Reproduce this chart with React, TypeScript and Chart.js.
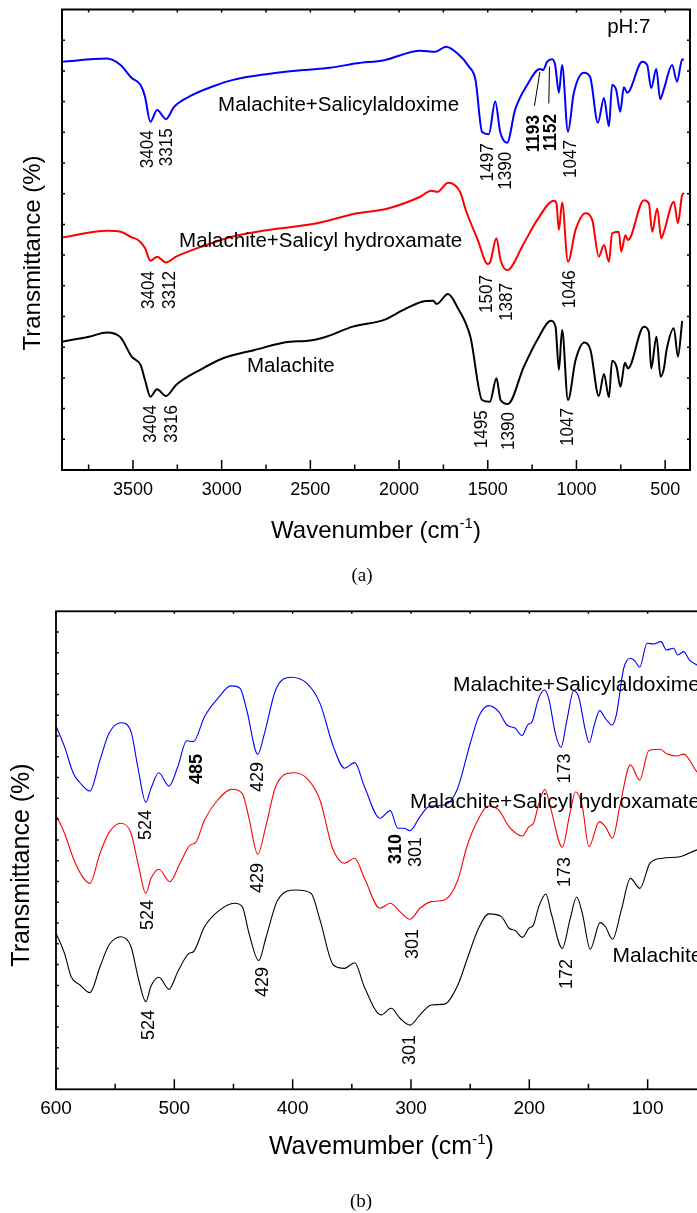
import React, { useEffect, useRef } from "react";
import { Chart, registerables } from "chart.js";

Chart.register(...registerables);

const SANS = '"Liberation Sans", Arial, Helvetica, sans-serif';
const SERIF = '"Liberation Serif", "Times New Roman", serif';

// ---------------- Panel (a): FTIR, wavenumber (cm-1) vs offset transmittance (a.u.)
const aSalicylaldoxime: [number, number][] = [
  [3900, 133.0], [3646, 134.0], [3570, 131.9], [3507, 127.7], [3457, 125.4], [3432, 121.6],
  [3402, 113.4], [3364, 117.3], [3314, 114.3], [3268, 118.3], [3167, 122.1], [3043, 125.1],
  [2941, 127.0], [2738, 129.0], [2538, 130.3], [2389, 131.0], [2236, 132.5], [2084, 133.5],
  [1881, 136.6], [1797, 136.2], [1735, 137.9], [1673, 135.8], [1606, 131.4], [1569, 127.0],
  [1532, 110.1], [1494, 109.4], [1458, 120.0], [1430, 110.2], [1391, 106.6], [1346, 117.3],
  [1278, 125.4], [1206, 130.6], [1188, 130.3], [1165, 133.0], [1137, 133.8], [1120, 131.9],
  [1099, 122.9], [1081, 131.9], [1048, 110.2], [1015, 122.8], [958, 129.4], [923, 128.0],
  [879, 113.1], [845, 121.2], [817, 112.0], [799, 125.4], [776, 123.8], [753, 116.7],
  [733, 124.7], [714, 122.9], [629, 133.0], [601, 131.9], [579, 124.4], [550, 130.6],
  [528, 120.8], [507, 124.1], [461, 131.9], [433, 126.5], [404, 133.8], [395, 133.5],
];
const aSalicylHydroxamate: [number, number][] = [
  [3900, 75.7], [3646, 77.9], [3570, 77.6], [3507, 75.8], [3471, 74.9], [3432, 72.3],
  [3402, 68.2], [3364, 69.5], [3314, 67.6], [3257, 69.5], [3116, 72.7], [2941, 76.0],
  [2738, 78.2], [2487, 80.1], [2236, 83.6], [2062, 85.2], [1881, 89.0], [1819, 91.0],
  [1785, 90.6], [1723, 93.6], [1656, 90.6], [1624, 84.7], [1556, 74.9], [1500, 67.1],
  [1488, 67.5], [1451, 75.5], [1428, 68.4], [1391, 65.1], [1297, 73.8], [1222, 81.4],
  [1127, 87.7], [1113, 86.9], [1099, 78.2], [1081, 87.1], [1048, 67.8], [1005, 78.2],
  [949, 83.6], [911, 81.4], [874, 69.5], [845, 73.3], [817, 67.8], [799, 77.1],
  [761, 77.6], [748, 71.1], [724, 76.5], [710, 74.9], [620, 87.9], [592, 86.9],
  [573, 77.6], [545, 85.2], [522, 75.5], [507, 77.6], [451, 87.4], [428, 80.4],
  [404, 89.6], [393, 90.2],
];
const aMalachite: [number, number][] = [
  [3900, 41.8], [3748, 43.4], [3646, 44.8], [3570, 43.2], [3507, 36.9], [3457, 34.2],
  [3432, 29.3], [3402, 23.9], [3364, 26.3], [3314, 24.1], [3257, 27.7], [3116, 32.8],
  [2992, 36.4], [2814, 39.1], [2614, 41.8], [2525, 42.0], [2411, 43.4], [2261, 46.7],
  [2084, 48.9], [1984, 51.9], [1870, 54.8], [1808, 55.1], [1788, 54.1], [1724, 57.3],
  [1673, 53.2], [1598, 43.4], [1532, 22.8], [1488, 22.2], [1451, 29.9], [1428, 22.8],
  [1387, 21.5], [1297, 33.6], [1222, 42.3], [1143, 48.6], [1118, 46.7], [1099, 32.6],
  [1081, 45.6], [1048, 22.8], [1005, 35.8], [955, 41.5], [921, 39.1], [874, 24.1],
  [845, 31.3], [817, 23.7], [799, 35.6], [774, 33.6], [752, 27.1], [727, 34.9],
  [710, 33.1], [620, 46.7], [592, 45.0], [579, 33.1], [549, 43.4], [526, 30.4],
  [507, 33.1], [492, 39.1], [451, 46.2], [428, 36.9], [404, 48.6],
];
const aXMajor = [3500, 3000, 2500, 2000, 1500, 1000, 500];
const aXMinor = [3750, 3250, 2750, 2250, 1750, 1250, 750];
const aYTicks = [10, 20, 30, 40, 50, 60, 70, 80, 90, 100, 110, 120, 130, 140];

type Note = { text: string; x: number; y: number; rotated: boolean; bold?: boolean };

const aNotes: Note[] = [
  { text: "3404", x: 3418, y: 110.7, rotated: true },
  { text: "3315", x: 3308, y: 111.3, rotated: true },
  { text: "1497", x: 1498, y: 106.4, rotated: true },
  { text: "1390", x: 1396, y: 103.7, rotated: true },
  { text: "1193", x: 1241, y: 115.6, rotated: true, bold: true },
  { text: "1152", x: 1143, y: 116.0, rotated: true, bold: true },
  { text: "1047", x: 1030, y: 107.5, rotated: true },
  { text: "3404", x: 3409, y: 64.8, rotated: true },
  { text: "3312", x: 3294, y: 64.8, rotated: true },
  { text: "1507", x: 1503, y: 63.5, rotated: true },
  { text: "1387", x: 1391, y: 60.9, rotated: true },
  { text: "1046", x: 1038, y: 65.1, rotated: true },
  { text: "3404", x: 3398, y: 21.2, rotated: true },
  { text: "3316", x: 3283, y: 21.2, rotated: true },
  { text: "1495", x: 1532, y: 19.5, rotated: true },
  { text: "1390", x: 1379, y: 18.9, rotated: true },
  { text: "1047", x: 1047, y: 20.2, rotated: true },
  { text: "Malachite+Salicylaldoxime", x: 3020, y: 117.1, rotated: false },
  { text: "Malachite+Salicyl hydroxamate", x: 3240, y: 72.6, rotated: false },
  { text: "Malachite", x: 2857, y: 31.9, rotated: false },
  { text: "pH:7", x: 827, y: 142.2, rotated: false },
];
const aLeaders: [number, number, number, number][] = [
  [1237, 118.6, 1206, 129.7],
  [1156, 119.4, 1152, 131.4],
];

// ---------------- Panel (b): far-IR, wavenumber (cm-1) vs offset transmittance (a.u.)
const bSalicylaldoxime: [number, number][] = [
  [600, 174.8], [592.8, 164.9], [585.4, 152.1], [579.7, 147.5], [571.4, 143.5], [562.8, 158.5],
  [555.2, 171.3], [545.1, 176.4], [536.6, 172.1], [530.9, 155.2], [524.1, 138.1], [519.7, 144.8],
  [513.2, 152.3], [504.5, 145.9], [497.1, 155.2], [489.5, 167.7], [483.9, 167.3], [474.5, 179.3],
  [463.3, 188.1], [452.1, 194.1], [444.5, 193.0], [438.8, 182.5], [429.5, 161.3], [423.8, 171.3],
  [414.4, 192.1], [401.2, 198.3], [388.1, 195.4], [376.9, 185.7], [365.6, 164.9], [356.2, 154.5],
  [347.6, 157.2], [339.3, 145.6], [326.2, 130.4], [317.5, 134.1], [311.1, 125.6], [305.9, 125.6],
  [300.9, 124.4], [292.4, 131.2], [284.8, 136.0], [271.7, 136.8], [261.1, 144.0], [249.9, 166.5],
  [242.8, 179.3], [234.3, 184.6], [225.9, 181.7], [218.9, 175.3], [211.8, 173.7], [206.2, 170.2],
  [201.4, 175.3], [197.7, 176.9], [192.1, 188.1], [187.3, 192.1], [183.6, 188.1], [178.0, 171.3],
  [173.2, 164.6], [168.2, 177.7], [162.5, 191.8], [158.3, 188.9], [152.7, 172.9], [149.3, 166.8],
  [145.1, 175.3], [140.5, 182.2], [135.8, 178.5], [130.1, 175.3], [126.5, 180.1], [120.2, 202.6],
  [114.6, 207.4], [110.4, 205.8], [106.7, 203.1], [100.5, 214.6], [94.9, 214.3], [88.7, 215.4],
  [84.2, 211.4], [78.0, 212.2], [74.6, 209.0], [69.5, 210.6], [64.8, 206.6], [58.3, 204.2],
  [50, 202.0],
];
const bSalicylHydroxamate: [number, number][] = [
  [600, 132.0], [592.8, 123.2], [585.4, 111.2], [577.9, 102.6], [571.4, 99.1], [562.8, 113.6],
  [555.2, 123.5], [545.1, 128.0], [536.6, 123.2], [530.1, 107.1], [524.1, 94.3], [519.7, 101.5],
  [513.0, 105.9], [503.8, 99.9], [495.2, 108.8], [486.5, 117.6], [482.0, 118.7], [474.5, 129.6],
  [463.3, 139.2], [451.3, 144.4], [442.6, 142.4], [436.9, 130.4], [429.5, 113.1], [422.7, 126.4],
  [414.4, 145.6], [399.4, 152.3], [388.1, 149.7], [376.9, 139.2], [366.3, 116.0], [356.2, 108.8],
  [347.6, 111.2], [339.3, 101.5], [326.2, 87.1], [317.5, 89.5], [309.3, 85.5], [300.9, 81.8],
  [292.4, 87.1], [282.9, 90.3], [271.7, 91.1], [260.4, 100.7], [252.8, 116.7], [243.5, 129.6],
  [234.7, 136.3], [225.9, 134.4], [217.2, 126.4], [205.9, 121.9], [200.3, 126.4], [196.5, 128.0],
  [192.0, 137.3], [186.7, 144.4], [182.3, 136.0], [172.1, 116.5], [165.7, 132.8], [160.8, 143.2],
  [155.2, 136.0], [149.6, 116.7], [140.9, 128.8], [135.7, 126.4], [129.7, 120.8], [123.3, 136.8],
  [114.6, 156.1], [106.7, 148.8], [99.1, 162.9], [89.3, 163.6], [83.6, 161.3], [75.2, 160.4],
  [69.5, 161.3], [58.3, 152.8], [50, 150.0],
];
const bMalachite: [number, number][] = [
  [600, 75.1], [592.8, 65.4], [587.2, 54.2], [579.7, 50.2], [571.4, 46.5], [562.8, 59.0],
  [555.2, 69.4], [545.1, 73.4], [536.6, 68.6], [530.1, 52.6], [524.1, 42.2], [519.7, 49.7],
  [513.0, 53.9], [504.5, 48.1], [497.1, 56.6], [487.6, 65.4], [483.9, 66.2], [474.5, 78.2],
  [463.3, 85.5], [449.0, 89.5], [442.6, 87.9], [436.9, 75.1], [428.7, 61.9], [422.7, 72.7],
  [412.6, 91.1], [397.5, 95.9], [384.5, 94.3], [376.9, 81.5], [365.6, 59.8], [356.2, 58.2],
  [347.6, 60.9], [339.3, 49.1], [325.3, 35.8], [316.7, 39.0], [309.3, 34.2], [300.9, 30.9],
  [292.4, 35.8], [282.9, 40.6], [271.7, 41.0], [260.4, 50.2], [252.8, 62.2], [243.5, 76.7],
  [234.1, 84.4], [223.6, 83.1], [217.2, 77.5], [211.6, 76.3], [205.9, 73.1], [200.3, 77.5],
  [196.5, 79.1], [192.0, 87.9], [186.0, 94.0], [181.5, 84.7], [172.1, 67.8], [165.7, 81.5],
  [160.0, 92.5], [155.2, 84.7], [148.5, 67.4], [140.2, 80.2], [135.7, 78.2], [129.7, 72.2],
  [122.2, 86.3], [114.6, 101.5], [106.5, 96.7], [98.0, 108.8], [87.6, 111.2], [72.7, 111.9],
  [58.3, 115.2], [50, 116.0],
];
const bXMajor = [600, 500, 400, 300, 200, 100];
const bXMinor = [550, 450, 350, 250, 150, 50];
const bYTicks = [10, 20, 30, 40, 50, 60, 70, 80, 90, 100, 110, 120, 130, 140, 150, 160, 170, 180, 190, 200, 210, 220];

const bNotes: Note[] = [
  { text: "524", x: 524.3, y: 134.4, rotated: true },
  { text: "485", x: 480.8, y: 161.3, rotated: true, bold: true },
  { text: "429", x: 429.3, y: 157.5, rotated: true },
  { text: "310", x: 312.7, y: 122.9, rotated: true, bold: true },
  { text: "301", x: 295.8, y: 121.4, rotated: true },
  { text: "173", x: 169.8, y: 161.6, rotated: true },
  { text: "524", x: 522.3, y: 91.1, rotated: true },
  { text: "429", x: 429.3, y: 108.9, rotated: true },
  { text: "173", x: 170.1, y: 111.8, rotated: true },
  { text: "301", x: 298.3, y: 77.1, rotated: true },
  { text: "524", x: 521.0, y: 38.2, rotated: true },
  { text: "429", x: 425.1, y: 58.9, rotated: true },
  { text: "301", x: 300.4, y: 26.1, rotated: true },
  { text: "172", x: 168.2, y: 62.7, rotated: true },
  { text: "Malachite+Salicylaldoxime", x: 264.5, y: 191.7, rotated: false },
  { text: "Malachite+Salicyl hydroxamate", x: 300.8, y: 135.4, rotated: false },
  { text: "Malachite", x: 129.6, y: 61.3, rotated: false },
];

type Series = { data: [number, number][]; color: string };
type PanelCfg = {
  top: number; width: number; height: number;
  pad: { left: number; right: number; top: number };
  axisHeight: number;
  xMin: number; xMax: number; yMax: number;
  xMajor: number[]; xMinor: number[]; yTicks: number[];
  series: Series[]; lineWidth: number; frameWidth: number;
  majorLen: number; minorLen: number; topLen: number; sideLen: number;
  tickSize: number; tickPad: number;
  notes: Note[]; rotSize: number; rotScale: number; labelSize: number;
  leaders: [number, number, number, number][];
  xTitle: string; xTitleSize: number; xTitleBase: number;
  yTitleX: number; yTitleY: number; yTitleSize: number;
  caption: string; captionX: number; captionBase: number;
};

const panelA: PanelCfg = {
  top: 0, width: 697, height: 596,
  pad: { left: 62, right: 7, top: 9.5 }, axisHeight: 126,
  xMin: 360, xMax: 3900, yMax: 150,
  xMajor: aXMajor, xMinor: aXMinor, yTicks: aYTicks,
  series: [
    { data: aSalicylaldoxime, color: "#0000ff" },
    { data: aSalicylHydroxamate, color: "#ff0000" },
    { data: aMalachite, color: "#000000" },
  ],
  lineWidth: 2, frameWidth: 2,
  majorLen: 10, minorLen: 5.5, topLen: 3, sideLen: 3,
  tickSize: 18, tickPad: 9,
  notes: aNotes, rotSize: 19, rotScale: 0.9, labelSize: 20.5,
  leaders: aLeaders,
  xTitle: "Wavenumber (cm", xTitleSize: 24, xTitleBase: 538,
  yTitleX: 40, yTitleY: 253, yTitleSize: 24,
  caption: "(a)", captionX: 362, captionBase: 581,
};

const panelB: PanelCfg = {
  top: 596, width: 720, height: 617,
  pad: { left: 56, right: 13.2, top: 15.3 }, axisHeight: 123.7,
  xMin: 50, xMax: 600, yMax: 230,
  xMajor: bXMajor, xMinor: bXMinor, yTicks: bYTicks,
  series: [
    { data: bSalicylaldoxime, color: "#0000ff" },
    { data: bSalicylHydroxamate, color: "#ff0000" },
    { data: bMalachite, color: "#000000" },
  ],
  lineWidth: 1.1, frameWidth: 1.8,
  majorLen: 10, minorLen: 5.5, topLen: 2.5, sideLen: 2.7,
  tickSize: 19, tickPad: 8,
  notes: bNotes, rotSize: 18, rotScale: 1, labelSize: 21,
  leaders: [],
  xTitle: "Wavemumber (cm", xTitleSize: 25, xTitleBase: 558,
  yTitleX: 28.5, yTitleY: 269, yTitleSize: 25,
  caption: "(b)", captionX: 361, captionBase: 611,
};

function Panel({ cfg }: { cfg: PanelCfg }) {
  const ref = useRef<HTMLCanvasElement>(null);
  useEffect(() => {
    const canvas = ref.current;
    if (!canvas) return;
    const decor = {
      id: "decor",
      afterDraw(chart: any) {
        const { ctx, chartArea: ca } = chart;
        const xs = chart.scales.x;
        const ys = chart.scales.y;
        ctx.save();
        ctx.strokeStyle = "#000";
        ctx.fillStyle = "#000";
        // tick marks (inward)
        ctx.lineWidth = 1.5;
        ctx.beginPath();
        const inX = (p: number) => p >= ca.left - 0.5 && p <= ca.right + 0.5;
        for (const v of cfg.xMajor) {
          const p = xs.getPixelForValue(v);
          if (!inX(p)) continue;
          ctx.moveTo(p, ca.bottom);
          ctx.lineTo(p, ca.bottom - cfg.majorLen);
        }
        for (const v of cfg.xMinor) {
          const p = xs.getPixelForValue(v);
          if (!inX(p)) continue;
          ctx.moveTo(p, ca.bottom);
          ctx.lineTo(p, ca.bottom - cfg.minorLen);
        }
        for (const v of [...cfg.xMajor, ...cfg.xMinor]) {
          const p = xs.getPixelForValue(v);
          if (!inX(p)) continue;
          ctx.moveTo(p, ca.top);
          ctx.lineTo(p, ca.top + cfg.topLen);
        }
        for (const v of cfg.yTicks) {
          const p = ys.getPixelForValue(v);
          ctx.moveTo(ca.left, p);
          ctx.lineTo(ca.left + cfg.sideLen, p);
          ctx.moveTo(ca.right, p);
          ctx.lineTo(ca.right - cfg.sideLen, p);
        }
        ctx.stroke();
        // frame
        ctx.lineWidth = cfg.frameWidth;
        ctx.strokeRect(ca.left, ca.top, ca.right - ca.left, ca.bottom - ca.top);
        // leader lines
        ctx.lineWidth = 1;
        ctx.beginPath();
        for (const [x1, y1, x2, y2] of cfg.leaders) {
          ctx.moveTo(xs.getPixelForValue(x1), ys.getPixelForValue(y1));
          ctx.lineTo(xs.getPixelForValue(x2), ys.getPixelForValue(y2));
        }
        ctx.stroke();
        // annotations
        for (const n of cfg.notes) {
          const px = xs.getPixelForValue(n.x);
          const py = ys.getPixelForValue(n.y);
          if (n.rotated) {
            ctx.save();
            ctx.translate(px, py);
            ctx.rotate(-Math.PI / 2);
            ctx.scale(cfg.rotScale, 1);
            ctx.font = `${n.bold ? "bold " : ""}${cfg.rotSize}px ${SANS}`;
            ctx.textAlign = "right";
            ctx.textBaseline = "middle";
            ctx.fillText(n.text, 0, 0);
            ctx.restore();
          } else {
            ctx.font = `${cfg.labelSize}px ${SANS}`;
            ctx.textAlign = "left";
            ctx.textBaseline = "alphabetic";
            ctx.fillText(n.text, px, py);
          }
        }
        // x title with superscript
        const mainFont = `${cfg.xTitleSize}px ${SANS}`;
        const supFont = `15px ${SANS}`;
        ctx.textAlign = "left";
        ctx.textBaseline = "alphabetic";
        ctx.font = mainFont;
        const w1 = ctx.measureText(cfg.xTitle).width;
        const w3 = ctx.measureText(")").width;
        ctx.font = supFont;
        const w2 = ctx.measureText("-1").width;
        let tx = (ca.left + ca.right) / 2 - (w1 + w2 + w3) / 2;
        ctx.font = mainFont;
        ctx.fillText(cfg.xTitle, tx, cfg.xTitleBase);
        tx += w1;
        ctx.font = supFont;
        ctx.fillText("-1", tx, cfg.xTitleBase - 10.5);
        tx += w2;
        ctx.font = mainFont;
        ctx.fillText(")", tx, cfg.xTitleBase);
        // y title
        ctx.save();
        ctx.translate(cfg.yTitleX, cfg.yTitleY);
        ctx.rotate(-Math.PI / 2);
        ctx.font = `${cfg.yTitleSize}px ${SANS}`;
        ctx.textAlign = "center";
        ctx.textBaseline = "alphabetic";
        ctx.fillText("Transmittance (%)", 0, 0);
        ctx.restore();
        // caption
        ctx.font = `19px ${SERIF}`;
        ctx.textAlign = "center";
        ctx.fillText(cfg.caption, cfg.captionX, cfg.captionBase);
        ctx.restore();
      },
    };
    const chart = new Chart(canvas, {
      type: "line",
      data: {
        datasets: cfg.series.map((s) => ({
          data: s.data.map(([x, y]) => ({ x, y })),
          borderColor: s.color,
          backgroundColor: s.color,
          borderWidth: cfg.lineWidth,
          pointRadius: 0,
          fill: false,
          cubicInterpolationMode: "monotone" as const,
        })),
      },
      options: {
        animation: false,
        responsive: false,
        events: [],
        parsing: false as any,
        layout: { padding: { left: cfg.pad.left, right: cfg.pad.right, top: cfg.pad.top, bottom: 0 } },
        plugins: { legend: { display: false }, tooltip: { enabled: false }, title: { display: false } },
        scales: {
          x: {
            type: "linear",
            reverse: true,
            min: cfg.xMin,
            max: cfg.xMax,
            grid: { display: false, drawTicks: false, tickLength: 0 },
            border: { display: false },
            ticks: {
              color: "#000",
              font: { family: SANS, size: cfg.tickSize },
              padding: cfg.tickPad,
              maxRotation: 0,
              autoSkip: false,
              callback: (v: any) => String(v),
            },
            afterBuildTicks: (s: any) => {
              s.ticks = cfg.xMajor.map((v) => ({ value: v }));
            },
            afterFit: (s: any) => {
              s.height = cfg.axisHeight;
            },
          },
          y: { type: "linear", display: false, min: 0, max: cfg.yMax },
        },
      },
      plugins: [decor],
    } as any);
    return () => chart.destroy();
  }, [cfg]);
  return (
    <canvas
      ref={ref}
      width={cfg.width}
      height={cfg.height}
      style={{ position: "absolute", left: 0, top: cfg.top, width: cfg.width, height: cfg.height, display: "block" }}
    />
  );
}

export default function App() {
  return (
    <div
      style={{
        position: "absolute",
        left: 0,
        top: 0,
        width: 697,
        height: 1213,
        overflow: "hidden",
        background: "#fff",
      }}
    >
      <Panel cfg={panelA} />
      <Panel cfg={panelB} />
    </div>
  );
}
